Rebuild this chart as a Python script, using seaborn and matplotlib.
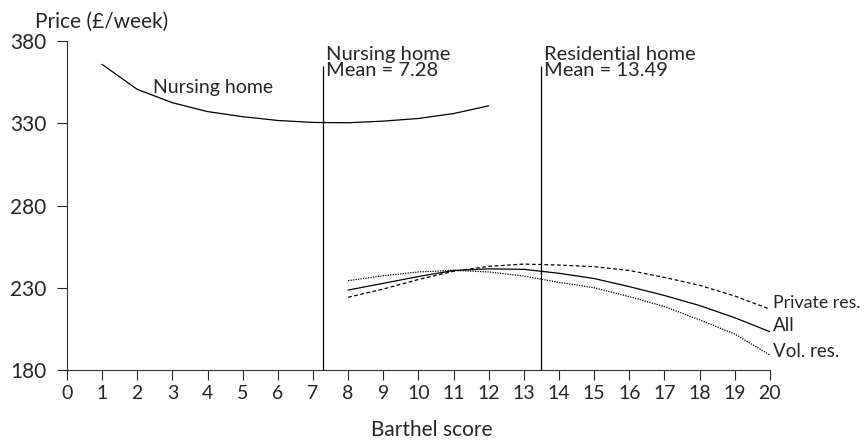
import pandas as pd
import matplotlib.pyplot as plt
import seaborn as sns

# values
nursing_x = [1, 2, 3, 4, 5, 6, 7, 8, 9, 10, 11, 12]
nursing_price = [365.8, 350.6, 342.5, 337.1, 334.0, 331.7, 330.5, 330.3, 331.3, 332.9, 335.9, 340.6]

res_x = [8, 9, 10, 11, 12, 13, 14, 15, 16, 17, 18, 19, 20]
all_price = [228.6, 232.7, 236.8, 240.5, 241.5, 241.2, 238.8, 235.6, 230.7, 225.3, 219.2, 211.8, 203.3]
private_price = [224.2, 229.2, 235.0, 240.0, 243.0, 244.4, 243.8, 242.8, 240.5, 236.3, 231.5, 225.0, 217.0]
vol_price = [234.3, 237.3, 239.6, 240.6, 239.6, 237.1, 233.3, 230.0, 224.6, 218.6, 210.5, 201.9, 189.1]

means = [7.28, 13.49]
mean_labels = ["Nursing home\nMean = 7.28", "Residential home\nMean = 13.49"]

sns.set_style("ticks")
plt.rcParams['font.family'] = ['Lato', 'DejaVu Sans']

df_nh = pd.DataFrame({"score": nursing_x, "price": nursing_price})
df_res = pd.DataFrame({
    "score": res_x * 3,
    "price": all_price + private_price + vol_price,
    "group": ["All"] * 13 + ["Private res."] * 13 + ["Vol. res."] * 13,
})

fig = plt.figure(figsize=(8.64, 4.41), dpi=100)
ax = fig.add_axes([0.0775, 0.161, 0.8135, 0.746])

sns.lineplot(data=df_nh, x="score", y="price", color="black", lw=0.9, ax=ax)
sns.lineplot(data=df_res, x="score", y="price", style="group",
             dashes={"All": "", "Private res.": (3, 2), "Vol. res.": (1, 1)},
             color="black", lw=0.9, legend=False, ax=ax)

# mean lines
fs = 15
for m, lab in zip(means, mean_labels):
    ax.vlines(m, 180, 365, color="black", lw=0.9)
    ax.text(m + 0.08, 377.0, lab, fontsize=14.5, va="top", ha="left", linespacing=0.95)

# curve labels
ax.text(2.45, 352.0, "Nursing home", fontsize=14, va="center")
ax.text(20.1, 220.5, "Private res.", fontsize=12.8, va="center")
ax.text(20.1, 207.0, "All", fontsize=13.5, va="center")
ax.text(20.1, 191.0, "Vol. res.", fontsize=13.5, va="center")

ax.set_xlim(0, 20)
ax.set_ylim(180, 380)
ax.set_xticks(range(0, 21))
ax.set_yticks([180, 230, 280, 330, 380])
ax.tick_params(axis="x", length=7, width=0.8, labelsize=14, pad=4)
ax.tick_params(axis="y", length=7, width=0.8, labelsize=15, pad=8)
for s in ["left", "bottom"]:
    ax.spines[s].set_linewidth(0.8)
    ax.spines[s].set_color("#333333")
sns.despine(ax=ax)

ax.set_xlabel("")
ax.set_ylabel("")
fig.text(0.5, 0.026, "Barthel score", fontsize=fs, va="center", ha="center")
fig.text(0.04, 0.95, "Price (£/week)", fontsize=fs, va="center", ha="left")

fig.savefig("out.png", dpi=100)
